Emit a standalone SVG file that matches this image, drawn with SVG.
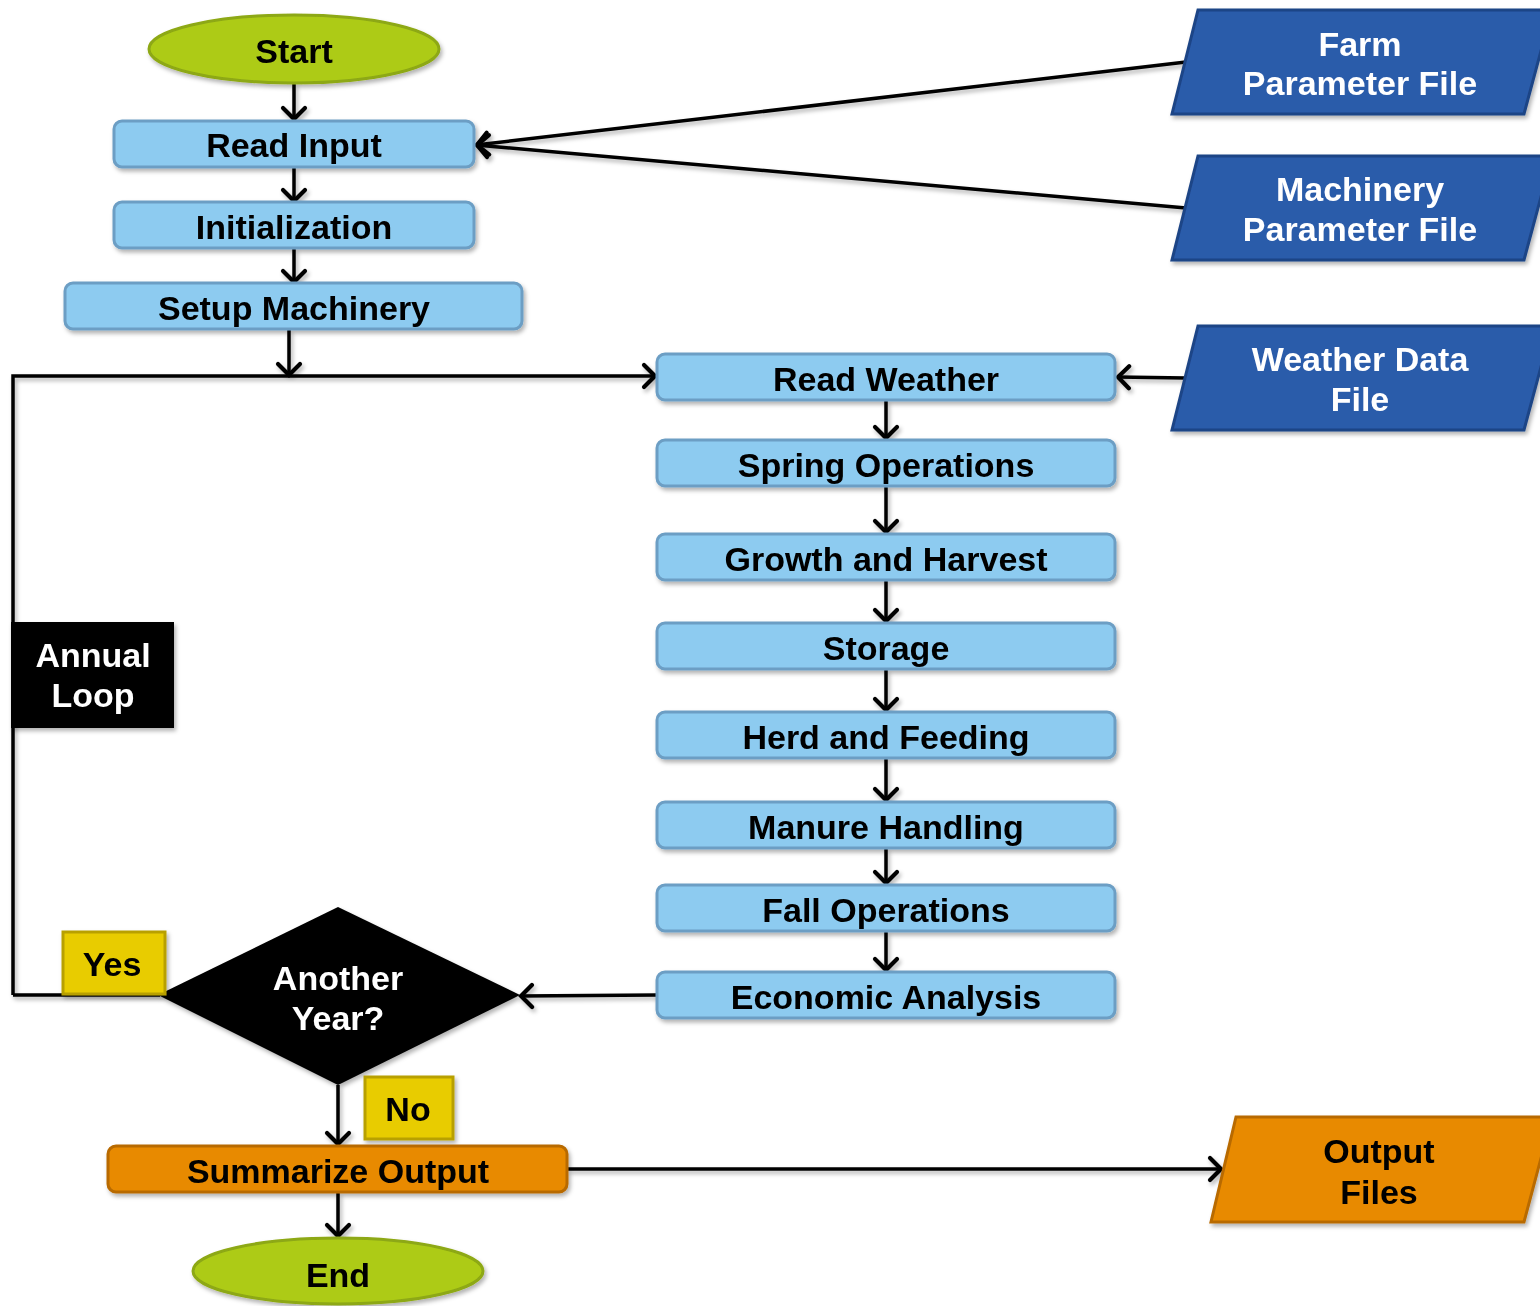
<svg xmlns="http://www.w3.org/2000/svg" width="1540" height="1306" viewBox="0 0 1540 1306">
<defs>
<filter id="sh" x="-10%" y="-10%" width="130%" height="140%">
<feDropShadow dx="2" dy="3" stdDeviation="2" flood-color="#000" flood-opacity="0.3"/>
</filter>
<marker id="ah" markerUnits="userSpaceOnUse" markerWidth="30" markerHeight="30" viewBox="-15 -15 30 30" refX="0" refY="0" orient="auto">
<path d="M-12,-11 L-1,0 L-12,11" fill="none" stroke="#000" stroke-width="4.2" stroke-linejoin="miter" stroke-linecap="round"/>
</marker>
</defs>
<style>
text{font-family:"Liberation Sans",Arial,sans-serif;font-weight:bold;font-size:34px;text-anchor:middle}
.blue{fill:#8DCBF0;stroke:#6C9EC4;stroke-width:3}
.green{fill:#ADCB17;stroke:#8DA812;stroke-width:3}
.file{fill:#2B5BAA;stroke:#1D4486;stroke-width:3}
.orange{fill:#E88A00;stroke:#B86A00;stroke-width:3}
.yellow{fill:#E8CC00;stroke:#B8A000;stroke-width:3}
.dark{fill:#000}
.w{fill:#fff}
.k{fill:#000}
.ca{fill:none;stroke:#000;stroke-width:3.5;marker-end:url(#ah)}
</style>

<g id="connectors" filter="url(#sh)">
<path class="ca" d="M294,84 V120"/>
<path class="ca" d="M294,168 V202"/>
<path class="ca" d="M294,249 V283"/>
<path class="ca" d="M289,330 V376"/>
<path class="ca" d="M13,995 H160 M13,995 V376 H656"/>
<path class="ca" d="M886,401 V439"/>
<path class="ca" d="M886,487 V533"/>
<path class="ca" d="M886,581 V622"/>
<path class="ca" d="M886,670 V711"/>
<path class="ca" d="M886,759 V801"/>
<path class="ca" d="M886,849 V884"/>
<path class="ca" d="M886,932 V971"/>
<path class="ca" d="M657,995 L520,996"/>
<path class="ca" d="M338,1085 V1145"/>
<path class="ca" d="M338,1193 V1237"/>
<path class="ca" d="M568,1169 H1222"/>
<path class="ca" d="M1186,62 L476,145"/>
<path class="ca" d="M1186,208 L476,145"/>
<path class="ca" d="M1186,378 L1117,377"/>
</g>

<g id="start" filter="url(#sh)"><ellipse class="green" cx="294" cy="49" rx="145" ry="34"/><text class="k" x="294" y="63">Start</text></g>
<g id="read-input" filter="url(#sh)"><rect class="blue" x="114" y="121" width="360" height="46" rx="8"/><text class="k" x="294" y="157">Read Input</text></g>
<g id="initialization" filter="url(#sh)"><rect class="blue" x="114" y="202" width="360" height="46" rx="8"/><text class="k" x="294" y="239">Initialization</text></g>
<g id="setup-machinery" filter="url(#sh)"><rect class="blue" x="65" y="283" width="457" height="46" rx="8"/><text class="k" x="294" y="320">Setup Machinery</text></g>

<g id="farm-file" filter="url(#sh)"><polygon class="file" points="1198,10 1552,10 1524,114 1172,114"/><text class="w" x="1360" y="56">Farm</text><text class="w" x="1360" y="95">Parameter File</text></g>
<g id="machinery-file" filter="url(#sh)"><polygon class="file" points="1198,156 1552,156 1524,260 1172,260"/><text class="w" x="1360" y="201">Machinery</text><text class="w" x="1360" y="241">Parameter File</text></g>
<g id="weather-file" filter="url(#sh)"><polygon class="file" points="1198,326 1552,326 1524,430 1172,430"/><text class="w" x="1360" y="371">Weather Data</text><text class="w" x="1360" y="411">File</text></g>

<g id="read-weather" filter="url(#sh)"><rect class="blue" x="657" y="354" width="458" height="46" rx="8"/><text class="k" x="886" y="391">Read Weather</text></g>
<g id="spring-operations" filter="url(#sh)"><rect class="blue" x="657" y="440" width="458" height="46" rx="8"/><text class="k" x="886" y="477">Spring Operations</text></g>
<g id="growth-harvest" filter="url(#sh)"><rect class="blue" x="657" y="534" width="458" height="46" rx="8"/><text class="k" x="886" y="571">Growth and Harvest</text></g>
<g id="storage" filter="url(#sh)"><rect class="blue" x="657" y="623" width="458" height="46" rx="8"/><text class="k" x="886" y="660">Storage</text></g>
<g id="herd-feeding" filter="url(#sh)"><rect class="blue" x="657" y="712" width="458" height="46" rx="8"/><text class="k" x="886" y="749">Herd and Feeding</text></g>
<g id="manure-handling" filter="url(#sh)"><rect class="blue" x="657" y="802" width="458" height="46" rx="8"/><text class="k" x="886" y="839">Manure Handling</text></g>
<g id="fall-operations" filter="url(#sh)"><rect class="blue" x="657" y="885" width="458" height="46" rx="8"/><text class="k" x="886" y="922">Fall Operations</text></g>
<g id="economic-analysis" filter="url(#sh)"><rect class="blue" x="657" y="972" width="458" height="46" rx="8"/><text class="k" x="886" y="1009">Economic Analysis</text></g>

<g id="annual-loop" filter="url(#sh)"><rect class="dark" x="11" y="622" width="163" height="106"/><text class="w" x="93" y="667">Annual</text><text class="w" x="93" y="707">Loop</text></g>

<g id="another-year" filter="url(#sh)"><polygon class="dark" points="338,907 520,995 338,1085 158,995"/><text class="w" x="338" y="990">Another</text><text class="w" x="338" y="1030">Year?</text></g>
<g id="yes-label" filter="url(#sh)"><rect class="yellow" x="63" y="932" width="102" height="62"/><text class="k" x="112" y="976">Yes</text></g>
<g id="no-label" filter="url(#sh)"><rect class="yellow" x="365" y="1077" width="88" height="62"/><text class="k" x="408" y="1121">No</text></g>

<g id="summarize-output" filter="url(#sh)"><rect class="orange" x="108" y="1146" width="459" height="46" rx="8"/><text class="k" x="338" y="1183">Summarize Output</text></g>
<g id="output-files" filter="url(#sh)"><polygon class="orange" points="1236,1117 1552,1117 1524,1222 1211,1222"/><text class="k" x="1379" y="1163">Output</text><text class="k" x="1379" y="1204">Files</text></g>
<g id="end" filter="url(#sh)"><ellipse class="green" cx="338" cy="1271" rx="145" ry="33"/><text class="k" x="338" y="1287">End</text></g>
</svg>
